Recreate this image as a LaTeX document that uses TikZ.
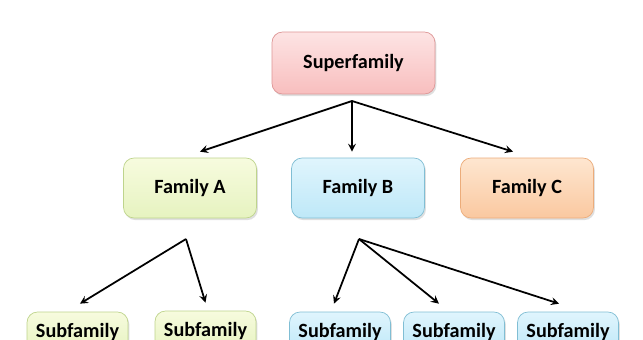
\documentclass[tikz,border=0pt]{standalone}
\usepackage{fontspec}
\setmainfont{Carlito}
\usepackage{tikz}
\usetikzlibrary{shapes,positioning,shadows}

\definecolor{supertop}{RGB}{253,228,228}
\definecolor{superbot}{RGB}{248,190,190}
\definecolor{superline}{RGB}{222,150,150}
\definecolor{greentop}{RGB}{247,251,222}
\definecolor{greenbot}{RGB}{230,243,192}
\definecolor{greenline}{RGB}{190,212,140}
\definecolor{bluetop}{RGB}{224,245,253}
\definecolor{bluebot}{RGB}{190,232,248}
\definecolor{blueline}{RGB}{128,190,212}
\definecolor{orangetop}{RGB}{254,230,208}
\definecolor{orangebot}{RGB}{250,200,160}
\definecolor{orangeline}{RGB}{236,172,122}

\begin{document}
\begin{tikzpicture}[x=0.02cm,y=-0.02cm]
\tikzstyle{every node}=[draw,rounded corners=6pt,minimum height=1.2cm,
  font=\bfseries\fontsize{11.5}{13}\selectfont,
  drop shadow={shadow xshift=0.8pt,shadow yshift=-1.2pt,opacity=0.25}];
\tikzstyle{superbox}=[top color=supertop,bottom color=superbot,draw=superline,minimum width=3.26cm,minimum height=1.24cm];
\tikzstyle{greenbox}=[top color=greentop,bottom color=greenbot,draw=greenline];
\tikzstyle{bluebox}=[top color=bluetop,bottom color=bluebot,draw=blueline];
\tikzstyle{orangebox}=[top color=orangetop,bottom color=orangebot,draw=orangeline];
\tikzstyle{famwidth}=[minimum width=2.66cm];
\tikzstyle{subwidth}=[minimum width=2.02cm,minimum height=0.8cm];

  \clip (0,0) rectangle (643,339);
  \fill[white] (0,0) rectangle (643,339);

  \node[superbox] (sf) at (353.5,63) {Superfamily};

  \node[greenbox,famwidth] (fa) at (190,188) {Family A};
  \node[bluebox,famwidth] (fb) at (358,188) {Family B};
  \node[orangebox,famwidth] (fc) at (527,188) {Family C};

  \node[greenbox,subwidth] (sa) at (77.5,332) {Subfamily};
  \node[greenbox,subwidth] (sb) at (205.5,331) {Subfamily};
  \node[bluebox,subwidth] (sc) at (340,332) {Subfamily};
  \node[bluebox,subwidth] (sd) at (454,332) {Subfamily};
  \node[bluebox,subwidth] (se) at (568,332) {Subfamily};

  \coordinate (sfb) at (352,101);
  \coordinate (fab) at (186,239);
  \coordinate (fbb) at (359,239);

  \foreach \from/\to/\dx in {sfb/fa/2mm, sfb/fb/-1.2mm, sfb/fc/-2.8mm}
\draw [->,>=stealth,line width=1pt] (\from) -- ([xshift=\dx,yshift=1.2mm]\to.north);

  \foreach \from/\to/\dx in {fab/sa/0.5mm, fab/sb/0mm, fbb/sc/-1.2mm, fbb/sd/-3mm, fbb/se/-1.8mm}
\draw [->,>=stealth,line width=1pt] (\from) -- ([xshift=\dx,yshift=1.6mm]\to.north);

\end{tikzpicture}
\end{document}
